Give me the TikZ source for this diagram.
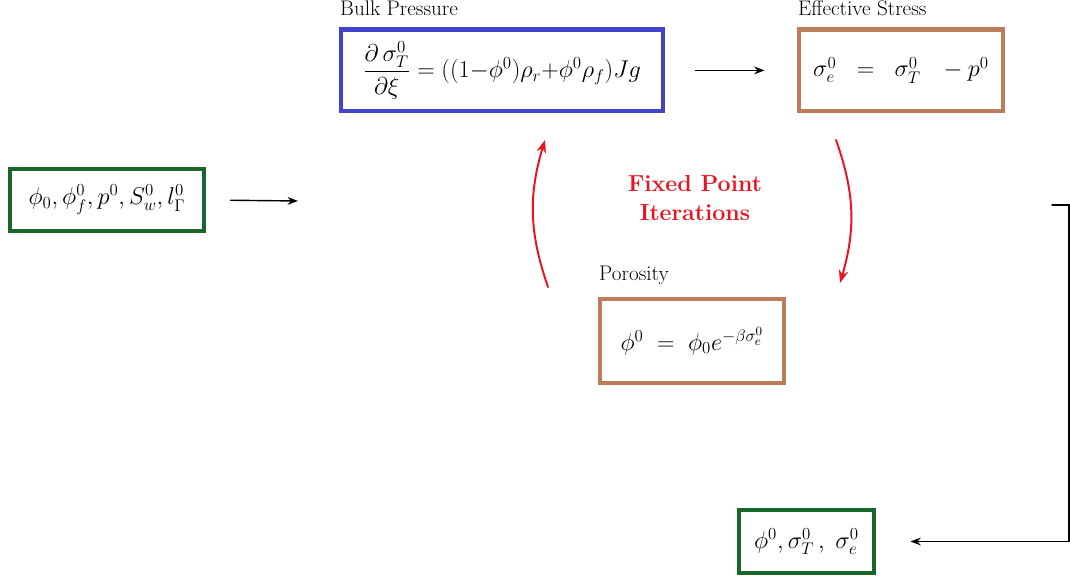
\documentclass[tikz,border=0pt]{standalone}
\usepackage{amsmath,amssymb}
\usepackage{tikz}
\usetikzlibrary{arrows.meta}
\usepackage{xcolor}
\definecolor{bulkblue}{RGB}{66,66,204}
\definecolor{claybrown}{RGB}{190,125,90}
\definecolor{datagreen}{RGB}{24,104,44}
\definecolor{iterred}{RGB}{236,18,30}

\begin{document}
\begin{tikzpicture}[>={Stealth[length=2.6mm]},line cap=round,
  eqbox/.style={draw=#1,line width=3.5pt,fill=white,inner sep=0pt,font=\fontsize{17.5}{21}\selectfont},
  tag/.style={anchor=south west,inner sep=0pt,font=\fontsize{15}{18}\selectfont},
  flow/.style={->,line width=1pt},
  iter/.style={-{Stealth[length=3.2mm]},iterred,line width=1.4pt}]
\useasboundingbox (0,0) rectangle (26.75,14.5);
\node[eqbox=bulkblue,minimum width=8.05cm,minimum height=2.03cm] (bulk) at (12.55,12.74)
  {$\dfrac{\partial\,\sigma^0_T}{\partial\xi} = ((1{-}\phi^0)\rho_r{+}\phi^0\rho_f)Jg$};
\node[tag] at ([xshift=1pt,yshift=8pt]bulk.north west) {Bulk Pressure};
\node[eqbox=claybrown,minimum width=5.1cm,minimum height=2.03cm] (eff) at (22.525,12.74)
  {$\sigma^0_e \;\;=\;\; \sigma^0_T \;\;\, - p^0$};
\node[tag] at ([xshift=1pt,yshift=8pt]eff.north west) {Effective Stress};
\node[eqbox=datagreen,minimum width=4.85cm,minimum height=1.55cm] (init) at (2.675,9.5)
  {$\phi_0, \phi^0_f, p^0, S^0_w, l^0_\Gamma$};
\node[eqbox=claybrown,minimum width=4.6cm,minimum height=2.1cm] (poro) at (17.3,5.975)
  {$\phi^0 \;=\; \phi_0 e^{-\beta\sigma^0_e}$};
\node[tag] at ([xshift=1pt,yshift=8pt]poro.north west) {Porosity};
\node[eqbox=datagreen,minimum width=3.375cm,minimum height=1.575cm] (result) at (20.1625,0.9625)
  {$\phi^0, \sigma^0_T\,,\; \sigma^0_e$};
\node[iterred,align=center,font=\fontsize{16.5}{21}\selectfont\bfseries] (fpi) at (17.375,9.55)
  {Fixed Point\\Iterations};
\coordinate (inend) at (7.45,9.475);
\coordinate (fbstart) at (26.3,9.375);
\coordinate (lbot) at (13.7,7.325);
\coordinate (ltop) at (13.625,11.0);
\coordinate (rtop) at (20.9,11.0);
\coordinate (rbot) at (21.0,7.425);
\draw[flow,shorten <=0.6cm] (init.east) -- (inend);
\draw[flow,shorten <=0.75cm,shorten >=0.8cm] (bulk.east) -- (eff.west);
\draw[flow,shorten >=0.85cm] (fbstart) -- ++(0.425,0) |- (result.east);
\draw[iter] (lbot) to[bend left=18] (ltop);
\draw[iter] (rtop) to[bend left=18] (rbot);
\end{tikzpicture}
\end{document}
